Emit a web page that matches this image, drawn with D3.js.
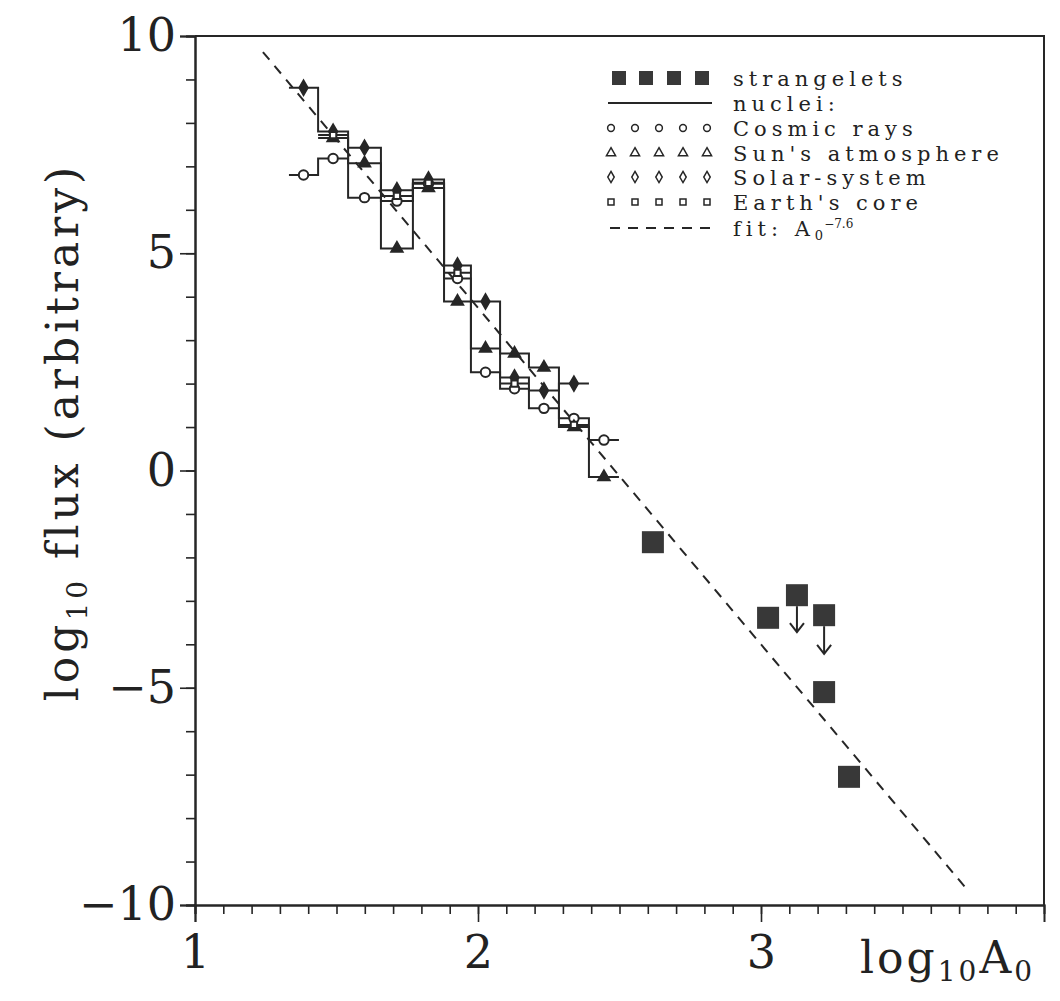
<!DOCTYPE html>
<html>
<head>
<meta charset="utf-8">
<script src="https://cdn.jsdelivr.net/npm/d3@7"></script>
<style>
  body { margin: 0; background: #fff; }
  svg { display: block; }
  text { font-family: "DejaVu Serif", "Liberation Serif", serif; fill: #222; }
</style>
</head>
<body>
<svg id="svg"></svg>
<script>
// Histogram bin edges (log10 A0)
const binEdges = [1.332, 1.435, 1.541, 1.657, 1.770, 1.880, 1.975, 2.078, 2.180, 2.286, 2.392, 2.498];

// Nuclei abundances per bin (log10 flux), null = no entry
const cosmicRays    = [6.80, 7.18, 6.28, 6.20, 6.60, 4.42, 2.26, 1.88, 1.43, 1.20, 0.70];
const sunAtmosphere = [null, 7.65, 7.07, 5.11, 6.50, 3.89, 2.81, 2.69, 2.37, 1.00, -0.15];
const solarSystem   = [8.81, 7.80, 7.43, 6.45, 6.70, 4.72, 3.89, 2.14, 1.84, 2.00, null];
const earthCore     = [null, 7.72, null, 6.32, 6.62, 4.55, null, 2.00, null, 1.05, null];

// Strangelet points
const strangeX     = [2.618, 3.025, 3.127, 3.223, 3.223, 3.311];
const strangeY     = [-1.65, -3.39, -2.87, -3.33, -5.10, -7.05];
const strangeLimit = [null, null, -3.72, -4.22, null, null];

// Fit A0^-7.6 (end points of the dashed line)
const fitX = [1.24, 3.724];
const fitY = [9.63, -9.61];

// Axis ticks
const yMinorTicks = d3.range(-10, 11, 1);
const yMajorTicks = [-10, -5, 0, 5, 10];
const xMinorTicks = d3.range(10, 40, 1).map(d => d / 10);
const xMajorTicks = [1, 2, 3];

// Legend
const legendLabels = ["strangelets", "nuclei:", "Cosmic rays", "Sun's atmosphere", "Solar-system", "Earth's core", "fit: "];

const width = 1060, height = 1001;
const ink = "#262626";

const svg = d3.select("#svg").attr("width", width).attr("height", height);

const x = d3.scaleLinear().domain([1, 4]).range([195, 1044]);
const y = d3.scaleLinear().domain([-10, 10]).range([905, 36]);

// frame (top and right)
svg.append("path")
    .attr("d", `M${x(1)},${y(10)}H${x(4)}V${y(-10)}`)
    .attr("fill", "none")
    .attr("stroke", ink)
    .attr("stroke-width", 2);

// y axis
const yMinor = svg.append("g")
    .attr("transform", `translate(${x(1)},0)`)
    .call(d3.axisLeft(y).tickValues(yMinorTicks).tickSize(9).tickFormat(""));
const yMajor = svg.append("g")
    .attr("transform", `translate(${x(1)},0)`)
    .call(d3.axisLeft(y).tickValues(yMajorTicks).tickSize(15).tickPadding(4)
        .tickFormat(d => d < 0 ? "\u2212" + Math.abs(d) : d));

// x axis
const xMinor = svg.append("g")
    .attr("transform", `translate(0,${y(-10)})`)
    .call(d3.axisBottom(x).tickValues(xMinorTicks).tickSize(9).tickFormat(""));
const xMajor = svg.append("g")
    .attr("transform", `translate(0,${y(-10)})`)
    .call(d3.axisBottom(x).tickValues(xMajorTicks).tickSize(17).tickPadding(13).tickFormat(d3.format("d")));

[yMinor, yMajor, xMinor, xMajor].forEach(g => {
    g.selectAll("path.domain").attr("stroke", ink).attr("stroke-width", 2);
    g.selectAll(".tick line").attr("stroke", ink).attr("stroke-width", 1.6);
    g.selectAll(".tick text").style("font-size", "46px").attr("fill", ink);
});

// axis titles
const yTitle = svg.append("text")
    .attr("transform", `translate(78,432) rotate(-90)`)
    .attr("text-anchor", "middle")
    .style("font-size", "44px")
    .style("letter-spacing", "4px");
yTitle.append("tspan").text("log");
yTitle.append("tspan").attr("dy", 9).style("font-size", "28px").text("10");
yTitle.append("tspan").attr("dy", -9).text(" flux (arbitrary)");

const xTitle = svg.append("text")
    .attr("x", 860)
    .attr("y", 973)
    .style("font-size", "44px")
    .style("letter-spacing", "3px");
xTitle.append("tspan").text("log");
xTitle.append("tspan").attr("dy", 8).style("font-size", "28px").text("10");
xTitle.append("tspan").attr("dy", -8).text("A");
xTitle.append("tspan").attr("dy", 8).style("font-size", "28px").text("0");

// fit line
svg.append("line")
    .attr("x1", x(fitX[0])).attr("y1", y(fitY[0]))
    .attr("x2", x(fitX[1])).attr("y2", y(fitY[1]))
    .attr("stroke", ink)
    .attr("stroke-width", 2)
    .attr("stroke-dasharray", "10,8");

// nuclei step histograms
const series = [
    { values: cosmicRays, symbol: d3.symbolCircle, size: 70, filled: false },
    { values: sunAtmosphere, symbol: d3.symbolTriangle, size: 55, filled: true },
    { values: solarSystem, symbol: d3.symbolDiamond, size: 60, filled: true },
    { values: earthCore, symbol: d3.symbolSquare, size: 40, filled: false }
];

const stepLine = d3.line()
    .defined(d => d !== null)
    .x(d => x(d[0]))
    .y(d => y(d[1]));

series.forEach(s => {
    const pts = [];
    s.values.forEach((v, i) => {
        if (v === null) {
            pts.push(null);
        } else {
            pts.push([binEdges[i], v], [binEdges[i + 1], v]);
        }
    });
    svg.append("path")
        .attr("d", stepLine(pts))
        .attr("fill", "none")
        .attr("stroke", ink)
        .attr("stroke-width", 2);
});

series.forEach(s => {
    const marks = s.values
        .map((v, i) => ({ v: v, c: (binEdges[i] + binEdges[i + 1]) / 2 }))
        .filter(d => d.v !== null);
    svg.append("g")
        .selectAll("path")
        .data(marks)
        .enter()
        .append("path")
        .attr("transform", d => `translate(${x(d.c)},${y(d.v)})`)
        .attr("d", d3.symbol().type(s.symbol).size(s.size))
        .attr("fill", s.filled ? ink : "#fff")
        .attr("stroke", ink)
        .attr("stroke-width", 2);
});

// strangelets
const sq = 22;
const strangelets = strangeX.map((d, i) => ({ x: d, y: strangeY[i], lim: strangeLimit[i] }));

svg.append("g")
    .selectAll("rect")
    .data(strangelets)
    .enter()
    .append("rect")
    .attr("x", d => x(d.x) - sq / 2)
    .attr("y", d => y(d.y) - sq / 2)
    .attr("width", sq)
    .attr("height", sq)
    .attr("fill", "#383838");

const arrows = svg.append("g")
    .selectAll("g")
    .data(strangelets.filter(d => d.lim !== null))
    .enter()
    .append("g")
    .attr("stroke", ink)
    .attr("stroke-width", 2)
    .attr("fill", "none");
arrows.append("line")
    .attr("x1", d => x(d.x)).attr("x2", d => x(d.x))
    .attr("y1", d => y(d.y) + sq / 2)
    .attr("y2", d => y(d.lim));
arrows.append("path")
    .attr("d", d => `M${x(d.x) - 7},${y(d.lim) - 9}L${x(d.x)},${y(d.lim)}L${x(d.x) + 7},${y(d.lim) - 9}`);

// legend
const legendRowY = [78, 103, 128, 153, 177, 202, 228];
const legendTextX = 733;
const markX = [611, 635, 659, 683, 707];

const legend = svg.append("g");

legend.selectAll("text")
    .data(legendLabels)
    .enter()
    .append("text")
    .attr("x", legendTextX)
    .attr("y", (d, i) => legendRowY[i] + 8)
    .style("font-size", "21px")
    .style("letter-spacing", "5px")
    .text(d => d);

// fit label: A with subscript 0 and exponent -7.6
const fitText = legend.select("text:last-child");
fitText.append("tspan").text("A");
fitText.append("tspan").attr("dy", 4).style("font-size", "13px").style("letter-spacing", "0px").text("0");
fitText.append("tspan").attr("dx", 1).attr("dy", -12).style("font-size", "12px").style("letter-spacing", "0px").text("\u22127.6");

// strangelet legend squares
legend.selectAll("rect")
    .data([619, 646, 674, 702])
    .enter()
    .append("rect")
    .attr("x", d => d - 7)
    .attr("y", legendRowY[0] - 7)
    .attr("width", 14)
    .attr("height", 14)
    .attr("fill", "#383838");

legend.append("line")
    .attr("x1", 608).attr("x2", 712)
    .attr("y1", legendRowY[1]).attr("y2", legendRowY[1])
    .attr("stroke", ink).attr("stroke-width", 2);

series.forEach((s, k) => {
    legend.append("g")
        .selectAll("path")
        .data(markX)
        .enter()
        .append("path")
        .attr("transform", d => `translate(${d},${legendRowY[k + 2]})`)
        .attr("d", d3.symbol().type(s.symbol).size(36))
        .attr("fill", "#fff")
        .attr("stroke", ink)
        .attr("stroke-width", 1.5);
});

legend.append("line")
    .attr("x1", 610).attr("x2", 712)
    .attr("y1", legendRowY[6]).attr("y2", legendRowY[6])
    .attr("stroke", ink).attr("stroke-width", 2)
    .attr("stroke-dasharray", "10,8");
</script>
</body>
</html>
